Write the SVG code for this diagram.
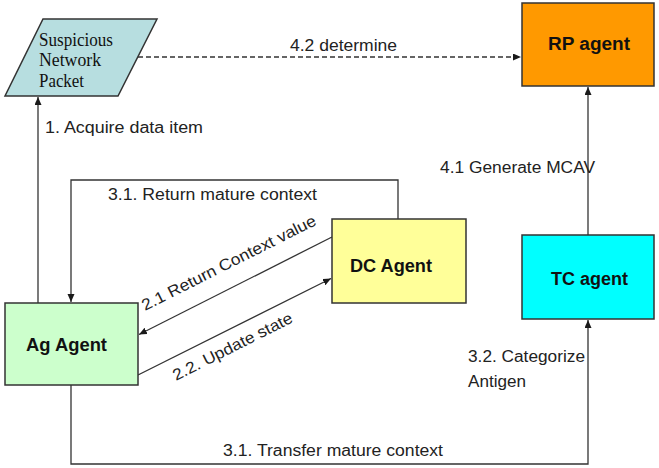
<svg xmlns="http://www.w3.org/2000/svg" width="659" height="468" viewBox="0 0 659 468">
  <defs>
    <marker id="arrow" markerUnits="userSpaceOnUse" markerWidth="9" markerHeight="8" refX="8" refY="3.5" orient="auto">
      <path d="M0,0 L8,3.5 L0,7 z" fill="#1a1a1a"/>
    </marker>
  </defs>
  <style>
    .box { stroke: #333; stroke-width: 1.5; }
    .title { font-family: "Liberation Sans", Arial, sans-serif; font-weight: bold; font-size: 17.5px; fill: #111; }
    .label { font-family: "Liberation Sans", Arial, sans-serif; font-size: 16px; fill: #222; }
    .serif { font-family: "Liberation Serif", "Times New Roman", serif; font-size: 18px; fill: #111; }
    .conn { fill: none; stroke: #333; stroke-width: 1.3; }
    .dash { stroke-dasharray: 5 3; }
  </style>

  <rect width="659" height="468" fill="#ffffff"/>

  <!-- connectors -->
  <g id="connectors">
    <path class="conn" d="M38,303 V97" marker-end="url(#arrow)"/>
    <path class="conn dash" d="M138,57 H521" marker-end="url(#arrow)"/>
    <path class="conn" d="M398,219 V180 H71 V302" marker-end="url(#arrow)"/>
    <path class="conn" d="M332,237 L139,334.5" marker-end="url(#arrow)"/>
    <path class="conn" d="M138,375 L331,278.5" marker-end="url(#arrow)"/>
    <path class="conn" d="M588,235 V87" marker-end="url(#arrow)"/>
    <path class="conn" d="M71,385 V464 H588 V320" marker-end="url(#arrow)"/>

    <text class="label" x="290" y="51" textLength="107" lengthAdjust="spacingAndGlyphs">4.2 determine</text>
    <text class="label" x="45" y="133" textLength="158" lengthAdjust="spacingAndGlyphs">1. Acquire data item</text>
    <text class="label" x="108" y="200" textLength="209" lengthAdjust="spacingAndGlyphs">3.1. Return mature context</text>
    <text class="label" x="440" y="173" textLength="155" lengthAdjust="spacingAndGlyphs">4.1 Generate MCAV</text>
    <text class="label" x="468" y="362" textLength="117" lengthAdjust="spacingAndGlyphs">3.2. Categorize</text>
    <text class="label" x="468" y="387" textLength="58" lengthAdjust="spacingAndGlyphs">Antigen</text>
    <text class="label" x="223" y="456" textLength="220" lengthAdjust="spacingAndGlyphs">3.1. Transfer mature context</text>
    <text class="label" transform="translate(145,311) rotate(-26.7)" textLength="193" lengthAdjust="spacingAndGlyphs">2.1 Return Context value</text>
    <text class="label" transform="translate(176,381) rotate(-26.7)" textLength="132" lengthAdjust="spacingAndGlyphs">2.2. Update state</text>
  </g>

  <!-- nodes -->
  <g id="packet">
    <polygon class="box" points="43,19 157,19 118,96 5,96" fill="#b7dee0"/>
    <text class="serif" x="39" y="46" textLength="74" lengthAdjust="spacingAndGlyphs">Suspicious</text>
    <text class="serif" x="39" y="66" textLength="62" lengthAdjust="spacingAndGlyphs">Network</text>
    <text class="serif" x="39" y="87" textLength="45" lengthAdjust="spacingAndGlyphs">Packet</text>
  </g>

  <g id="rp-agent">
    <rect class="box" x="522" y="3" width="132" height="83" fill="#ff9900"/>
    <text class="title" x="548" y="50" textLength="82" lengthAdjust="spacingAndGlyphs">RP agent</text>
  </g>

  <g id="dc-agent">
    <rect class="box" x="332" y="219" width="134" height="84" fill="#ffff99"/>
    <text class="title" x="350" y="272" textLength="82" lengthAdjust="spacingAndGlyphs">DC Agent</text>
  </g>

  <g id="tc-agent">
    <rect class="box" x="522" y="235" width="132" height="84" fill="#00ffff"/>
    <text class="title" x="551" y="285" textLength="77" lengthAdjust="spacingAndGlyphs">TC agent</text>
  </g>

  <g id="ag-agent">
    <rect class="box" x="5" y="303" width="133" height="82" fill="#ccffcc"/>
    <text class="title" x="26" y="351" textLength="81" lengthAdjust="spacingAndGlyphs">Ag Agent</text>
  </g>
</svg>
